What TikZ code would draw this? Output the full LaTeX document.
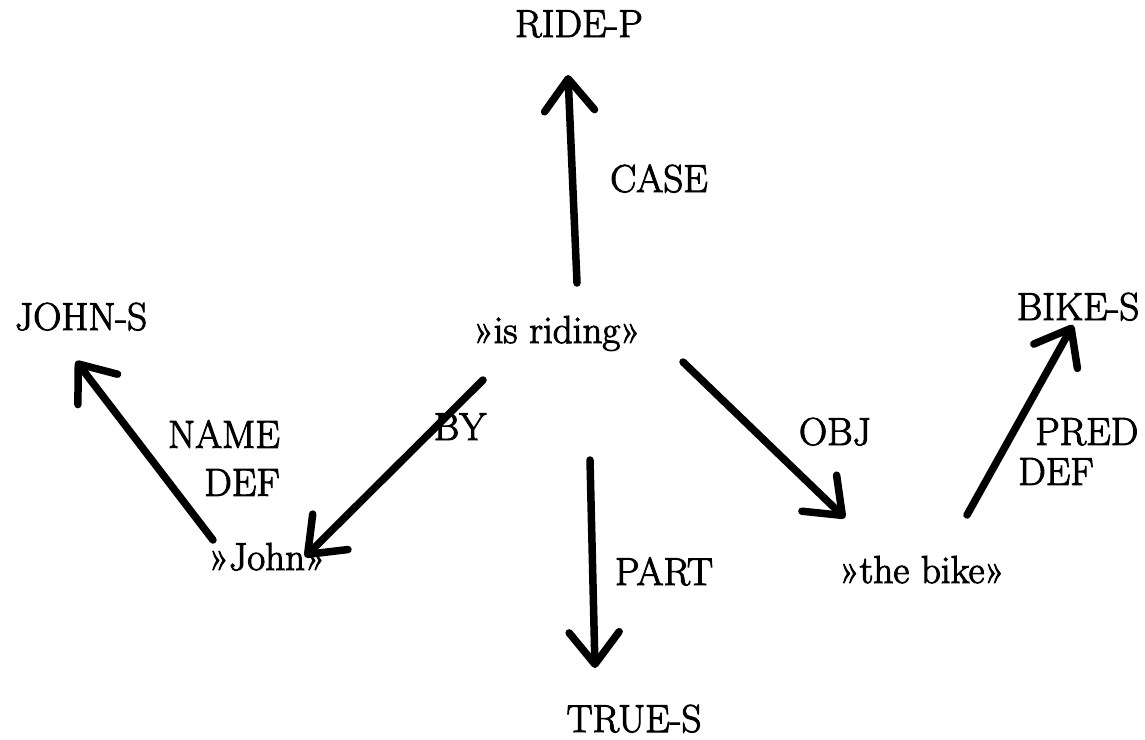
\documentclass[tikz,border=0pt]{standalone}
\usepackage{fontspec}
\setmainfont{Latin Modern Roman}[FakeBold=2.5]
\usetikzlibrary{arrows.meta,calc}
\begin{document}
\begin{tikzpicture}[x=1pt,y=-1pt,
  lbl/.style={inner sep=0pt,font=\fontsize{39}{48}\selectfont},
  arr/.style={line width=7.5pt,line cap=round,
    -{Straight Barb[length=32pt,width=50pt,round]}}]
\useasboundingbox (0,0) rectangle (1145,739);

% concept nodes
\node[lbl,anchor=base] (ridep)  at (579,37)  {RIDE-P};
\node[lbl,anchor=base] (riding) at (557,343) {»is riding»};
\node[lbl,anchor=base] (johns)  at (81,330)  {JOHN-S};
\node[lbl,anchor=base] (bikes)  at (1078,320) {BIKE-S};
\node[lbl,anchor=base] (john)   at (267,570) {»John»};
\node[lbl,anchor=base] (bike)   at (922,583) {»the bike»};
\node[lbl,anchor=base] (trues)  at (634,732) {TRUE-S};

% relations
\draw[arr] ($(riding.base)+(20,-60)$) -- ($(ridep.base)+(-11,38)$);
\draw[arr] ($(john.base)+(-54,-30)$)  -- ($(johns.base)+(-5,31)$);
\draw[arr] ($(riding.base)+(-74,37)$) -- ($(john.base)+(38,-13)$);
\draw[arr] ($(riding.base)+(33,117)$) -- ($(trues.base)+(-39,-64)$);
\draw[arr] ($(riding.base)+(126,19)$) -- ($(bike.base)+(-77,-65)$);
\draw[arr] ($(bike.base)+(45,-68)$)   -- ($(bikes.base)+(-5,5)$);

% relation labels
\node[lbl,anchor=base] (case) at (659,192) {CASE};
\node[lbl,anchor=base] (by)   at (460,440) {BY};
\node[lbl,anchor=base] (obj)  at (835,445) {OBJ};
\node[lbl,anchor=base] (part) at (664,585) {PART};
\node[lbl,anchor=north east,align=right] (namedef) at (280,420) {NAME\\DEF};
\node[lbl,anchor=north west,align=left,font=\fontsize{39}{40}\selectfont] (preddef) at (1018,418) {\hspace*{17pt}PRED\\DEF};
\end{tikzpicture}
\end{document}
